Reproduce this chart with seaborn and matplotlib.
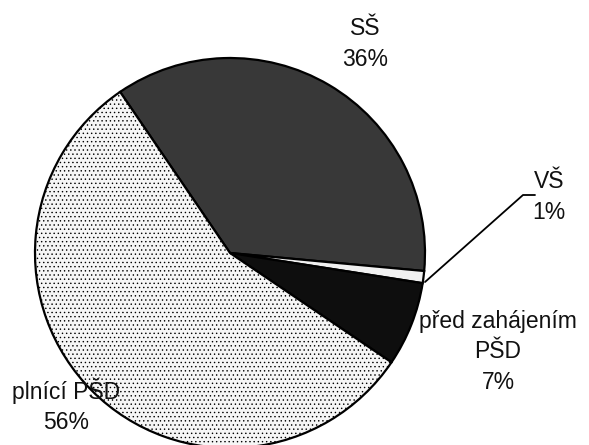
import matplotlib.pyplot as plt
import seaborn as sns

categories = ["SŠ", "VŠ", "před zahájením\nPŠD", "plnící PŠD"]
shares = [36, 1, 7, 56]
slice_colors = ["#383838", "#f0f0f0", "#0e0e0e", "#f6f6f6"]
slice_hatches = ["", "", "", "...."]

sns.set_style("white")
plt.rcParams['font.family'] = ['Liberation Sans', 'DejaVu Sans']
plt.rcParams['hatch.color'] = '#c4c4c4'
plt.rcParams['hatch.linewidth'] = 0.5

fig = plt.figure(figsize=(5.89, 4.45), dpi=100)
ax = fig.add_axes([0, 0, 1, 1])

wedges, _ = ax.pie(shares, colors=slice_colors, startangle=124.3, counterclock=False,
                   center=(230, 192), radius=195, frame=True,
                   wedgeprops=dict(edgecolor='black', linewidth=1.6))
for w, h in zip(wedges, slice_hatches):
    w.set_hatch(h)

ax.set_xlim(0, 589)
ax.set_ylim(0, 445)
ax.set_aspect('equal')
ax.axis('off')

# labels
lab_pos = [(365, 401), (549, 248), (498, 93), (66, 39)]
for (x, y), name, val in zip(lab_pos, categories, shares):
    ax.text(x, y, f"{name}\n{val}%", ha='center', va='center', fontsize=16.5,
            linespacing=1.4, color='#111111')

# leader line for VŠ
ax.plot([535, 523, 425], [250, 250, 163], color='black', lw=1.3)

fig.savefig("out.png", dpi=100)
